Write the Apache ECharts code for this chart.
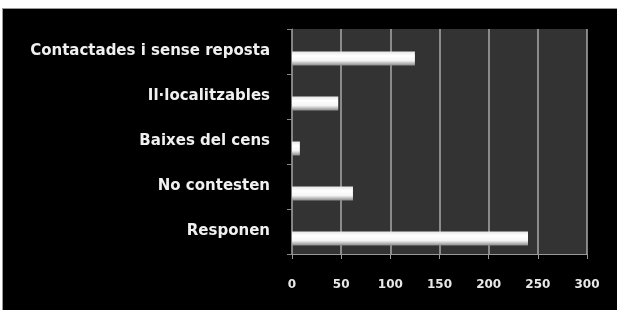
<!DOCTYPE html>
<html><head><meta charset="utf-8">
<script src="https://cdn.jsdelivr.net/npm/echarts@6/dist/echarts.min.js"></script>
<style>
html,body{margin:0;padding:0;background:#fff;width:617px;height:310px;overflow:hidden}
#c{position:absolute;left:2px;top:8px;width:615px;height:302px;background:#000;border-top:1px solid #999;border-left:1px solid #999;box-sizing:border-box}
</style></head><body>
<div id="c"></div>
<script>
const categories = ["Responen", "No contesten", "Baixes del cens", "Il·localitzables", "Contactades i sense reposta"];
const values = [240, 62, 8, 47, 125];
const xTicks = [0, 50, 100, 150, 200, 250, 300];

const chart = echarts.init(document.getElementById('c'));
chart.setOption({
  backgroundColor: '#000',
  animation: false,
  grid: {left: 289, right: 30, top: 20, bottom: 56, show: true, backgroundColor: '#333', borderWidth: 0},
  xAxis: {
    type: 'value', min: 0, max: 300, interval: 50,
    axisLine: {show: true, lineStyle: {color: '#999', width: 1}},
    axisTick: {show: true, length: 5, lineStyle: {color: '#999'}},
    splitLine: {show: true, lineStyle: {color: '#aaa', width: 1.5}},
    axisLabel: {color: '#e8e8e8', fontFamily: 'DejaVu Sans', fontWeight: 'bold', fontSize: 12, margin: 25,
      formatter: v => xTicks.includes(v) ? String(v) : ''}
  },
  yAxis: {
    type: 'category', data: categories,
    axisLine: {show: true, lineStyle: {color: '#888', width: 1}},
    axisTick: {show: true, length: 5, lineStyle: {color: '#888'}},
    axisLabel: {color: '#f0f0f0', fontFamily: 'DejaVu Sans', fontWeight: 'bold', fontSize: 15, margin: 22}
  },
  series: [
    {type: 'bar', data: values.map(() => '-'), barWidth: 14, barGap: '0%', silent: true},
    {type: 'bar', data: values, barWidth: 14, barGap: '0%',
      itemStyle: {color: new echarts.graphic.LinearGradient(0, 0, 0, 1, [
        {offset: 0, color: '#e6e6e6'}, {offset: 0.3, color: '#ffffff'},
        {offset: 0.65, color: '#f4f4f4'}, {offset: 1, color: '#8a8a8a'}])}}
  ]
});
</script>
</body></html>
